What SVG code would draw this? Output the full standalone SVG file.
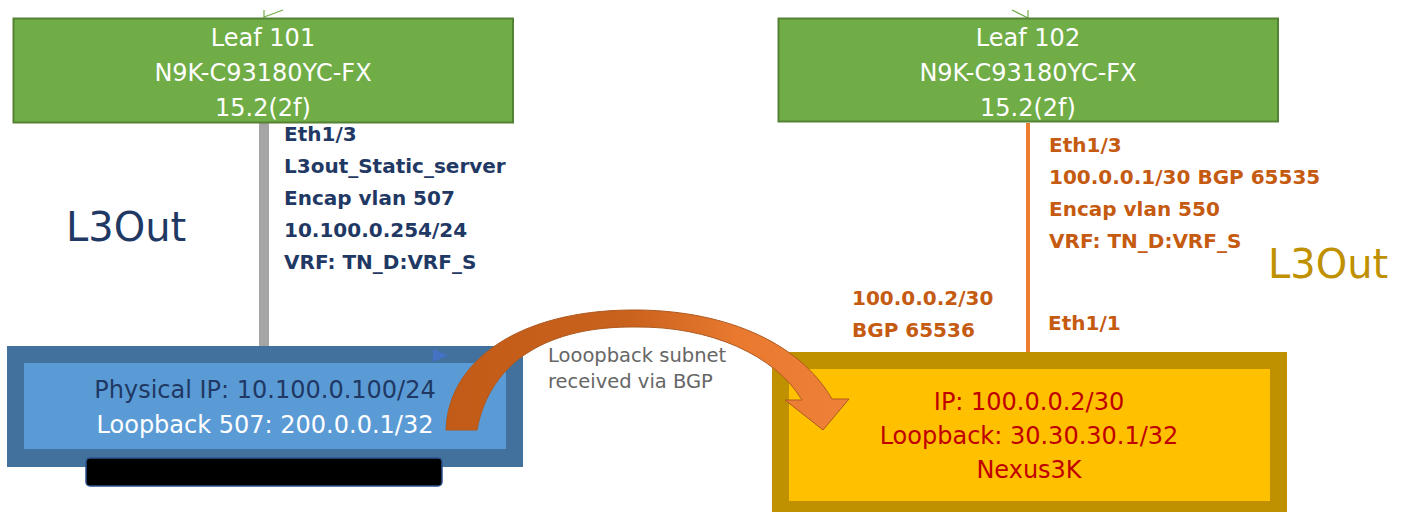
<svg xmlns="http://www.w3.org/2000/svg" width="1404" height="515" viewBox="0 0 1404 515">
<style>
text{font-family:"DejaVu Sans","Liberation Sans",sans-serif}
.leaf{fill:#70ad47;stroke:#548235;stroke-width:2}
.lt{fill:#fff;font-size:24px;text-anchor:middle}
.bl{fill:#1f3864;font-size:20px;font-weight:bold}
.or{fill:#c55a11;font-size:20px;font-weight:bold}
.big{font-size:40px}
.red{fill:#c00000;font-size:24px;text-anchor:middle}
.tick{stroke:#70ad47;stroke-width:1.2;fill:none}
</style>
<defs>
<linearGradient id="ag" x1="0" y1="0" x2="1" y2="0">
<stop offset="0" stop-color="#c25b17"/>
<stop offset="0.45" stop-color="#c9621d"/>
<stop offset="0.72" stop-color="#e8792f"/>
<stop offset="1" stop-color="#ef8038"/>
</linearGradient>
</defs>
<rect width="1404" height="515" fill="#fff"/>

<g id="connectors">
<path class="tick" d="M264,10 V18 M264,17 L283,10"/>
<path class="tick" d="M1028,10 V18 M1028,18 L1012,10"/>
<line x1="264" y1="123" x2="264" y2="354" stroke="#a5a5a5" stroke-width="10"/>
<line x1="1028" y1="123" x2="1028" y2="358" stroke="#ed7d31" stroke-width="4"/>
</g>

<g id="leaf101">
<rect class="leaf" x="13.5" y="18.5" width="499.5" height="104"/>
<text class="lt" x="263" y="46">Leaf 101</text>
<text class="lt" x="263" y="81">N9K-C93180YC-FX</text>
<text class="lt" x="263" y="116">15.2(2f)</text>
</g>

<g id="leaf102">
<rect class="leaf" x="778.5" y="18.5" width="499.5" height="103"/>
<text class="lt" x="1028" y="46">Leaf 102</text>
<text class="lt" x="1028" y="81">N9K-C93180YC-FX</text>
<text class="lt" x="1028" y="116">15.2(2f)</text>
</g>

<g id="l3out-left-label">
<text class="bl" x="284" y="141">Eth1/3</text>
<text class="bl" x="284" y="173">L3out_Static_server</text>
<text class="bl" x="284" y="205">Encap vlan 507</text>
<text class="bl" x="284" y="237">10.100.0.254/24</text>
<text class="bl" x="284" y="269">VRF: TN_D:VRF_S</text>
<text class="big" x="66" y="241" fill="#1f3864">L3Out</text>
</g>

<g id="l3out-right-label">
<text class="or" x="1049" y="152">Eth1/3</text>
<text class="or" x="1049" y="184">100.0.0.1/30 BGP 65535</text>
<text class="or" x="1049" y="216">Encap vlan 550</text>
<text class="or" x="1049" y="248">VRF: TN_D:VRF_S</text>
<text class="big" x="1268" y="278" fill="#bf9000">L3Out</text>
<text class="or" x="852" y="305">100.0.0.2/30</text>
<text class="or" x="852" y="337">BGP 65536</text>
<text class="or" x="1048" y="330">Eth1/1</text>
</g>

<g id="server">
<rect x="7" y="346" width="516" height="121" fill="#41719c"/>
<rect x="24" y="363" width="482" height="86" fill="#5b9bd5"/>
<polygon points="433,349 448,355.5 433,362" fill="#4472c4"/>
<text x="265" y="398" font-size="24" fill="#1f3864" text-anchor="middle">Physical IP: 10.100.0.100/24</text>
<text x="265" y="433" font-size="24" fill="#fff" text-anchor="middle">Loopback 507: 200.0.0.1/32</text>
<rect x="86" y="458" width="356" height="28" rx="4" fill="#000" stroke="#2f528f" stroke-width="1.5"/>
</g>

<g id="nexus">
<rect x="772" y="352" width="515" height="160" fill="#bf9000"/>
<rect x="789" y="369" width="481" height="132" fill="#ffc000"/>
<text class="red" x="1029" y="410">IP: 100.0.0.2/30</text>
<text class="red" x="1029" y="444">Loopback: 30.30.30.1/32</text>
<text class="red" x="1029" y="478">Nexus3K</text>
</g>

<g id="bgp-arrow">
<path d="M446,430 C448,360 520,311 630,310 C720,309 798,340 832,399 L849,399 L823,430 L785,400 L802,400 C775,355 710,326 635,327 C550,326 490,360 477,430 Z" fill="url(#ag)" stroke="#ae5a21" stroke-width="1"/>
<text x="548" y="362" font-size="19.5" fill="#666">Looopback subnet</text>
<text x="548" y="388" font-size="19.5" fill="#666">received via BGP</text>
</g>
</svg>
